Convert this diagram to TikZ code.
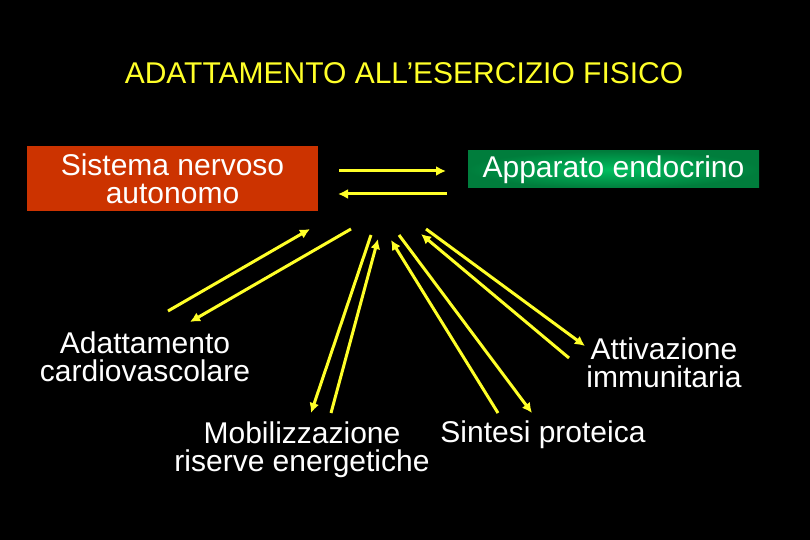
\documentclass[tikz,border=0pt]{standalone}
\usepackage{fontspec}
\setmainfont{Liberation Sans}
\usetikzlibrary{arrows.meta}
\definecolor{rosso}{RGB}{204,51,0}
\definecolor{verdechiaro}{RGB}{0,190,95}
\definecolor{verdescuro}{RGB}{0,125,60}
\definecolor{giallo}{RGB}{255,255,40}
\tikzset{
  testo/.style={text=white,font=\fontsize{15}{14}\selectfont,align=center,inner sep=0pt},
  freccia/.style={draw=giallo,line width=1.5pt,-{Latex[length=5pt,width=5pt]}}
}
\begin{document}
\begin{tikzpicture}[x=0.5pt,y=-0.5pt]
\fill[black] (0,0) rectangle (810,540);
\useasboundingbox (0,0) rectangle (810,540);
\node[testo,text=giallo,anchor=base] (titolo) at (404,84) {ADATTAMENTO ALL’ESERCIZIO FISICO};
\node[testo,fill=rosso,minimum width=145.5pt,minimum height=32.5pt] (sna) at (172.5,178.5) {Sistema nervoso\\autonomo};
\node[testo,inner color=verdechiaro,outer color=verdescuro,minimum width=145.5pt,minimum height=18.5pt] (endo) at (613.5,169.5) {Apparato endocrino};
\node[testo,anchor=base] (cardio) at (145,381) {Adattamento\\cardiovascolare};
\node[testo,anchor=base] (immuno) at (664,387) {Attivazione\\immunitaria};
\node[testo,anchor=base] (mobil) at (302,472) {Mobilizzazione\\riserve energetiche};
\node[testo,anchor=base] (sintesi) at (543,443) {Sintesi proteica};
% estremi delle frecce
\coordinate (h1) at (339,171);
\coordinate (h2) at (446,171);
\coordinate (h3) at (447,194);
\coordinate (h4) at (338,194);
\coordinate (c1) at (168,311);
\coordinate (c2) at (310,229);
\coordinate (c3) at (351,229);
\coordinate (c4) at (190,322);
\coordinate (m1) at (371,235);
\coordinate (m2) at (311,413);
\coordinate (m3) at (331,413);
\coordinate (m4) at (378,239);
\coordinate (s1) at (498,413);
\coordinate (s2) at (391,240);
\coordinate (s3) at (399,235);
\coordinate (s4) at (532,413);
\coordinate (i1) at (569,358);
\coordinate (i2) at (421,234);
\coordinate (i3) at (426,229);
\coordinate (i4) at (585,346);
\foreach \a/\b in {h1/h2,h3/h4,c1/c2,c3/c4,m1/m2,m3/m4,s1/s2,s3/s4,i1/i2,i3/i4}
	\draw[freccia] (\a) -- (\b);
\end{tikzpicture}
\end{document}
